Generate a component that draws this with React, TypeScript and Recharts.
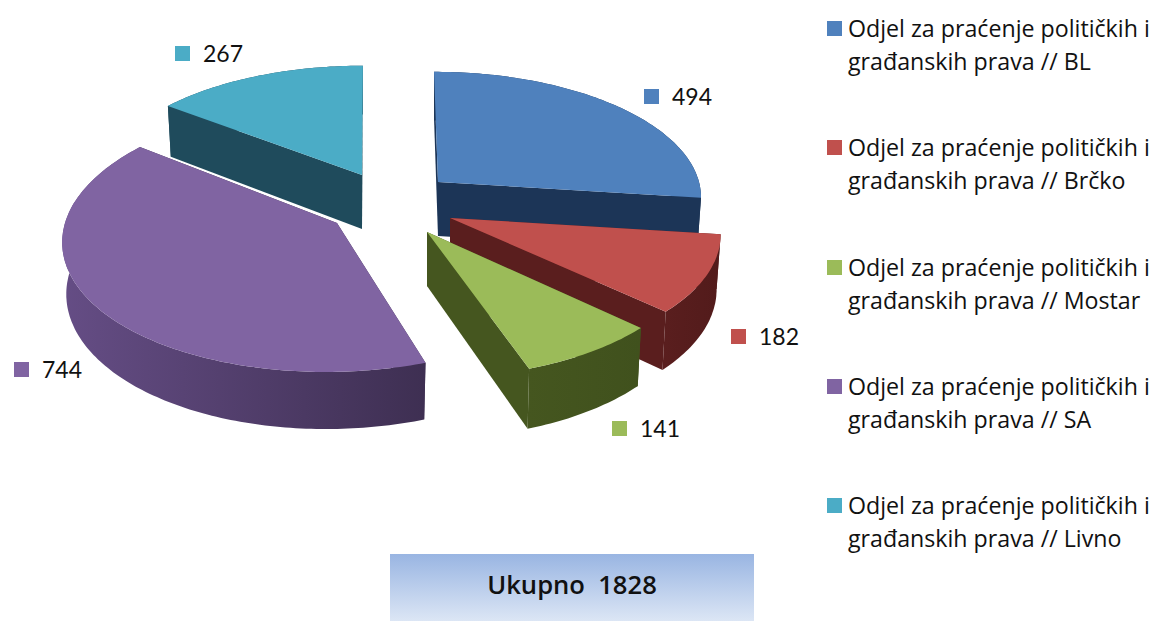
import React from "react";
import { PieChart, Pie, Legend } from "recharts";

const NAMES = [
  "Odjel za praćenje političkih i građanskih prava // BL",
  "Odjel za praćenje političkih i građanskih prava // Brčko",
  "Odjel za praćenje političkih i građanskih prava // Mostar",
  "Odjel za praćenje političkih i građanskih prava // SA",
  "Odjel za praćenje političkih i građanskih prava // Livno",
];
const VALUES = [494, 182, 141, 744, 267];
const TOP_COLORS = ["#4f81bd", "#c0504d", "#9bbb59", "#8064a2", "#4bacc6"];
const CUT_COLORS = ["#1c3557", "#5a1e1e", "#45561f", "#3f3050", "#1f4b5c"];
const RIM_LEFT = ["#1c3557", "#5a1e1e", "#45561f", "#654d85", "#1f4b5c"];
const RIM_RIGHT = ["#1c3557", "#521b1b", "#40511d", "#3e2f52", "#1f4b5c"];
const TOTAL_LABEL = "Ukupno  1828";

// 3D projection of each exploded slice (the pie angles still come from Recharts)
const PERSPECTIVE = 0.107;
const BOTTOM_SHRINK = 0.985;
const SLICE_GEOMETRY = [
  { cx: 438, cy: 182, b: 261, a: 122, shear: 4.4, depth: 54 },
  { cx: 450, cy: 218, b: 268.4, a: 127, shear: 5.9, depth: 54 },
  { cx: 427, cy: 232, b: 267.4, a: 130, shear: 4.5, depth: 54 },
  { cx: 337, cy: 223, b: 272, a: 133, shear: -10, depth: 51 },
  { cx: 362, cy: 175, b: 261, a: 121, shear: -1, depth: 54 },
];
const LABEL_POS = [
  { x: 644, y: 89 },
  { x: 731, y: 329 },
  { x: 612, y: 421 },
  { x: 14, y: 362 },
  { x: 175, y: 46 },
];

const rows = NAMES.map((name, i) => ({ name, value: VALUES[i], fill: TOP_COLORS[i] }));

type Pt = [number, number];
const RAD = Math.PI / 180;

function project(g: (typeof SLICE_GEOMETRY)[number], angle: number, bottom: boolean): Pt {
  const X = Math.cos(angle * RAD);
  const Y = -Math.sin(angle * RAD);
  const s = 1 / (1 - PERSPECTIVE * Y);
  const dx = (g.b * X + g.shear * Y) * s;
  const dy = g.a * Y * s;
  if (!bottom) return [g.cx + dx, g.cy + dy];
  return [g.cx + dx * BOTTOM_SHRINK, g.cy + dy + g.depth * s];
}
function apexOf(g: (typeof SLICE_GEOMETRY)[number], bottom: boolean): Pt {
  return bottom ? [g.cx, g.cy + g.depth] : [g.cx, g.cy];
}
const toPath = (pts: Pt[]) =>
  "M" + pts.map((p) => `${p[0].toFixed(1)},${p[1].toFixed(1)}`).join("L") + "Z";

function Slice3D(props: any) {
  const i: number = props.index ?? NAMES.indexOf(props.name);
  const g = SLICE_GEOMETRY[i];
  const start: number = props.startAngle;
  const end: number = props.endAngle;
  const n = Math.max(2, Math.ceil(Math.abs(end - start)));
  const arc: number[] = [];
  for (let k = 0; k <= n; k++) arc.push(start + ((end - start) * k) / n);
  const topRim = arc.map((a) => project(g, a, false));
  const botRim = arc.map((a) => project(g, a, true));
  const apexT = apexOf(g, false);
  const apexB = apexOf(g, true);
  const gid = `rim-${i}`;
  const first = topRim[0];
  const last = topRim[topRim.length - 1];
  const firstB = botRim[0];
  const lastB = botRim[botRim.length - 1];
  return (
    <g>
      <defs>
        <linearGradient id={gid} x1="0" y1="0" x2="1" y2="0">
          <stop offset="0%" stopColor={RIM_LEFT[i]} />
          <stop offset="100%" stopColor={RIM_RIGHT[i]} />
        </linearGradient>
      </defs>
      <path d={toPath([apexT, first, firstB, apexB])} fill={CUT_COLORS[i]} />
      <path d={toPath([apexT, last, lastB, apexB])} fill={CUT_COLORS[i]} />
      <path d={toPath([...topRim, ...botRim.slice().reverse()])} fill={`url(#${gid})`} />
      <path d={toPath([apexT, ...topRim])} fill={props.fill} />
    </g>
  );
}

function ValueLabel(props: any) {
  const i: number = props.index;
  const p = LABEL_POS[i];
  return (
    <g>
      <rect x={p.x} y={p.y} width={15} height={15} fill={TOP_COLORS[i]} />
      <text x={p.x + 28} y={p.y + 16} fontFamily="Lato" fontSize={23} fill="#111">
        {VALUES[i]}
      </text>
    </g>
  );
}

function LegendBlock({ payload }: any) {
  return (
    <div style={{ position: "relative", width: 336 }}>
      {(payload || []).map((e: any, i: number) => (
        <div key={i} style={{ position: "absolute", top: 119.3 * i, left: 0, width: 336 }}>
          <div
            style={{
              position: "absolute",
              left: 7,
              top: 21,
              width: 15,
              height: 15,
              background: e.color,
            }}
          />
          <div
            style={{
              position: "absolute",
              left: 28,
              top: 12,
              width: 308,
              fontFamily: "'Open Sans'",
              fontSize: 23.2,
              lineHeight: "33px",
              color: "#111",
            }}
          >
            {e.value}
          </div>
        </div>
      ))}
    </div>
  );
}

export default function App() {
  return (
    <div style={{ position: "absolute", left: 0, top: 0, width: 1156, height: 621, overflow: "hidden", background: "#fff" }}>
      <PieChart width={1156} height={621} margin={{ top: 0, right: 0, bottom: 0, left: 0 }}>
        <Pie
          data={rows}
          dataKey="value"
          nameKey="name"
          cx={400}
          cy={240}
          outerRadius={270}
          startAngle={90}
          endAngle={-270}
          stroke="none"
          shape={Slice3D}
          label={ValueLabel}
          labelLine={false}
          isAnimationActive={false}
        />
        <Legend
          layout="vertical"
          align="right"
          verticalAlign="top"
          itemSorter={null}
          content={<LegendBlock />}
          wrapperStyle={{ position: "absolute", left: 820, top: 0, width: 336, height: 0 }}
        />
      </PieChart>
      <div
        style={{
          position: "absolute",
          left: 390,
          top: 554,
          width: 364,
          height: 67,
          boxSizing: "border-box",
          paddingBottom: 7,
          background: "linear-gradient(#99b5e2, #dce6f5)",
          display: "flex",
          alignItems: "center",
          justifyContent: "center",
          fontFamily: "'Open Sans'",
          fontWeight: 600,
          fontSize: 25.6,
          color: "#111",
          whiteSpace: "pre",
        }}
      >
        {TOTAL_LABEL}
      </div>
    </div>
  );
}
